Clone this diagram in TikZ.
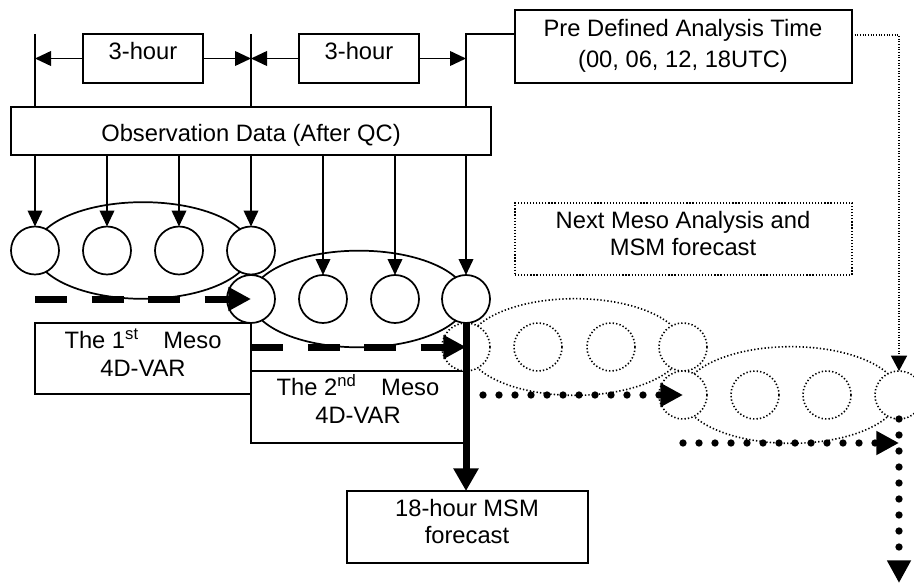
\documentclass[tikz,border=0pt]{standalone}
\usepackage{fontspec}
\setmainfont{Liberation Sans}
\usetikzlibrary{arrows.meta,fit,shapes.geometric}

\begin{document}
\begin{tikzpicture}[x=0.75pt,y=-0.75pt,
  thinln/.style={line width=1.3pt},
  thinarr/.style={line width=1.3pt,-{Triangle[length=12pt,width=11pt]}},
  boxst/.style={draw,line width=1.3pt,inner sep=0pt,outer sep=0pt},
  dotbox/.style={draw,line width=1.1pt,dash pattern=on 0.9pt off 1.4pt,inner sep=0pt,outer sep=0pt},
  txt/.style={anchor=base,inner sep=0pt,outer sep=0pt,font=\fontsize{17.8}{21}\selectfont},
  circ/.style={circle,draw,fill=white,line width=1.3pt,minimum size=36pt,inner sep=0pt,outer sep=0pt},
  dcirc/.style={circle,draw,fill=white,line width=1.2pt,dash pattern=on 1pt off 1.6pt,minimum size=36pt,inner sep=0pt,outer sep=0pt},
  ell/.style={ellipse,draw,line width=1.3pt,minimum width=162pt,minimum height=72.5pt,inner sep=0pt,outer sep=0pt},
  dell/.style={ellipse,draw,line width=1.2pt,dash pattern=on 1pt off 1.6pt,minimum width=162pt,minimum height=72.5pt,inner sep=0pt,outer sep=0pt},
  dasharr/.style={line width=5.25pt,dash pattern=on 24pt off 18.4pt,-{Triangle[length=17pt,width=17pt]}},
  thickarr/.style={line width=5.25pt,-{Triangle[length=17pt,width=18pt]}},
  dotarr/.style={line width=5.5pt,line cap=round,dash pattern=on 0pt off 12pt,-{Triangle[length=17pt,width=17pt]}},
  dotconn/.style={line width=1.1pt,dash pattern=on 0.8pt off 1.2pt,-{Triangle[length=11.5pt,width=12pt]}}
]
\useasboundingbox (0,0) rectangle (914,585);

% boxes
\node[boxst,fit={(83,34) (203,83)}] (h1) {};
\node[boxst,fit={(299,34) (419,83)}] (h2) {};
\node[boxst,fit={(11,107) (491,155)}] (obs) {};
\node[boxst,fit={(515,10) (852,83)}] (pd) {};
\node[dotbox,fit={(515,203) (852,275)}] (nm) {};
\node[boxst,fit={(35,323) (251,394)}] (m1) {};
\node[boxst,fit={(251,371) (465,443)}] (m2) {};
\node[boxst,fit={(347,491) (588,563)}] (fc) {};

% texts
\node[txt] (t3a) at (143,60) {3-hour};
\node[txt] (t3b) at (359,60) {3-hour};
\node[txt] (tobs) at (251,142) {Observation Data (After QC)};
\node[txt] (tpd1) at (683,36.5) {Pre Defined Analysis Time};
\node[txt] (tpd2) at (683,68) {(00, 06, 12, 18UTC)};
\node[txt] (tnm1) at (683,228) {Next Meso Analysis and};
\node[txt] (tnm2) at (683,255) {MSM forecast};
\node[txt] (tm1a) at (143,348) {The 1\textsuperscript{st}\hspace{18.5pt}Meso};
\node[txt] (tm1b) at (143,376) {4D-VAR};
\node[txt] (tm2a) at (358,395) {The 2\textsuperscript{nd}\hspace{18.5pt}Meso};
\node[txt] (tm2b) at (358,423) {4D-VAR};
\node[txt] (tf1) at (467,516) {18-hour MSM};
\node[txt] (tf2) at (467,543) {forecast};

% timeline
\coordinate (L0) at (35,34);
\coordinate (L1) at (251,34);
\coordinate (L2) at (466,34);
\draw[thinln] (L0) -- (L0 |- obs.north);
\draw[thinln] (L1) -- (L1 |- obs.north);
\draw[thinln] (pd.west |- L2) -- (L2) -- (L2 |- obs.north);
\draw[thinarr] (h1.west) -- (h1.west -| L0);
\draw[thinarr] (h1.east) -- (h1.east -| L1);
\draw[thinarr] (h2.west) -- (h2.west -| L1);
\draw[thinarr] (h2.east) -- (h2.east -| L2);

% row 1
\node[ell] (e1) at (143,250.5) {};
\node[circ] (c11) at (35,250.5) {};
\node[circ] (c12) at (107,250.5) {};
\node[circ] (c13) at (179,250.5) {};
\node[circ] (c14) at (251,250.5) {};
% row 2
\node[ell] (e2) at (359,299) {};
\node[circ] (c21) at (251,299) {};
\node[circ] (c22) at (323,299) {};
\node[circ] (c23) at (395,299) {};
\node[circ] (c24) at (466,299) {};
% row 3
\node[dell] (e3) at (575,347) {};
\node[dcirc] (d31) at (466,347) {};
\node[dcirc] (d32) at (538,347) {};
\node[dcirc] (d33) at (611,347) {};
\node[dcirc] (d34) at (683,347) {};
% row 4
\node[dell] (e4) at (791,395) {};
\node[dcirc] (d41) at (683,395) {};
\node[dcirc] (d42) at (755,395) {};
\node[dcirc] (d43) at (827,395) {};
\node[dcirc] (d44) at (899,395) {};

% observation arrows
\foreach \c in {c11,c12,c13,c14,c22,c23,c24}
  \draw[thinarr] (\c |- obs.south) -- (\c.north);

% pre defined connector
\coordinate (pdc) at (899,35);
\draw[dotconn] (pd.east |- pdc) -- (pdc) -- (d44.north);

% thick arrows
\draw[dasharr] (c11 |- c21) -- (c21.center);
\draw[dasharr] (c21 |- d31) -- (d31.center);
\draw[thickarr] (c24.south) -- (c24.south |- fc.north);
\coordinate (s3) at (483,395);
\draw[dotarr] (s3) -- (d41.center);
\coordinate (s4) at (683,443);
\coordinate (e4end) at (899,443);
\draw[dotarr] (s4) -- (e4end);
\coordinate (bot) at (899,583);
\draw[dotarr] (d44.south) -- (bot);
\end{tikzpicture}
\end{document}
